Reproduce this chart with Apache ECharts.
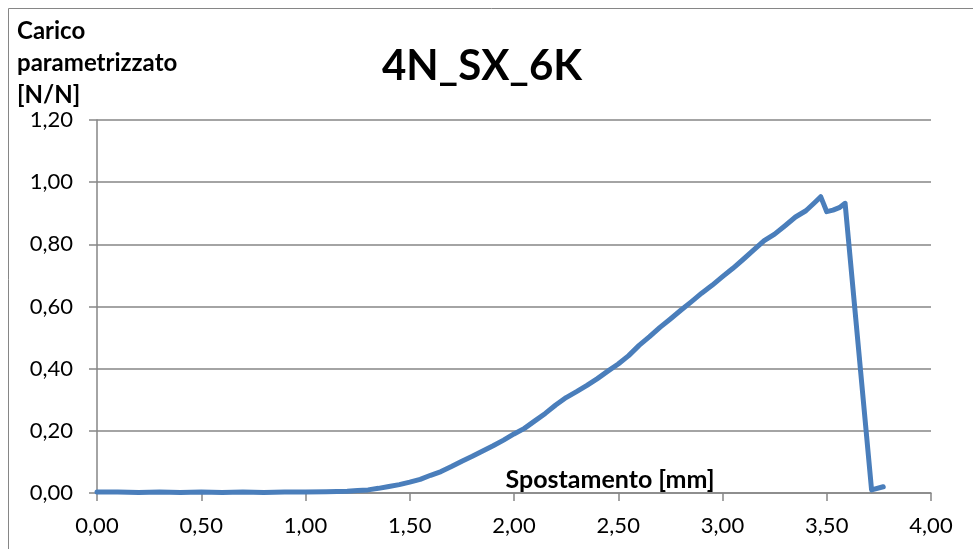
<!DOCTYPE html>
<html>
<head>
<meta charset="utf-8">
<script src="https://cdn.jsdelivr.net/npm/echarts@6/dist/echarts.min.js"></script>
<style>
html,body{margin:0;padding:0;background:#fff;}
#chart{width:973px;height:549px;}
</style>
</head>
<body>
<div id="chart"></div>
<script>
var chartTitle = '4N_SX_6K';
var xAxisName = 'Spostamento [mm]';
var yAxisNameLines = ['Carico', 'parametrizzato', '[N/N]'];

var displacement = [
  0.00, 0.10, 0.20, 0.30, 0.40, 0.50, 0.60, 0.70, 0.80, 0.90,
  1.00, 1.10, 1.15, 1.20, 1.25, 1.30, 1.35, 1.40, 1.45, 1.50,
  1.55, 1.60, 1.65, 1.70, 1.75, 1.80, 1.85, 1.90, 1.95, 2.00,
  2.05, 2.10, 2.15, 2.20, 2.25, 2.30, 2.35, 2.40, 2.45, 2.50,
  2.55, 2.60, 2.65, 2.70, 2.75, 2.80, 2.85, 2.90, 2.95, 3.00,
  3.05, 3.10, 3.15, 3.20, 3.25, 3.30, 3.35, 3.40, 3.44, 3.471,
  3.485, 3.50, 3.53, 3.56, 3.588, 3.715, 3.771
];
var load = [
  0.003, 0.003, 0.002, 0.003, 0.002, 0.003, 0.002, 0.003, 0.002, 0.003,
  0.003, 0.004, 0.005, 0.006, 0.008, 0.010, 0.015, 0.021, 0.027, 0.035,
  0.044, 0.057, 0.069, 0.085, 0.102, 0.118, 0.135, 0.152, 0.170, 0.190,
  0.208, 0.232, 0.256, 0.283, 0.307, 0.326, 0.346, 0.368, 0.392, 0.415,
  0.442, 0.475, 0.503, 0.533, 0.560, 0.588, 0.615, 0.643, 0.668, 0.696,
  0.723, 0.752, 0.782, 0.812, 0.833, 0.860, 0.888, 0.908, 0.933, 0.953,
  0.930, 0.905, 0.910, 0.918, 0.932, 0.010, 0.020
];
var xTicks = {min: 0, max: 4, interval: 0.5};
var yTicks = {min: 0, max: 1.2, interval: 0.2};

var seriesData = displacement.map(function (x, i) { return [x, load[i]]; });
var fmt = function (v) { return v.toFixed(2).replace('.', ','); };
var FONT = 'Lato, "Open Sans", sans-serif';
var GRAY = '#868686';

var chart = echarts.init(document.getElementById('chart'), null, {renderer: 'canvas'});
chart.setOption({
  animation: false,
  backgroundColor: '#fff',
  grid: {left: 97, right: 42, top: 120, bottom: 56, containLabel: false},
  xAxis: {
    type: 'value', min: xTicks.min, max: xTicks.max, interval: xTicks.interval,
    axisLine: {show: true, lineStyle: {color: GRAY, width: 1.5}},
    axisTick: {show: true, inside: false, length: 8, lineStyle: {color: GRAY, width: 1.5}},
    axisLabel: {formatter: fmt, color: '#000', fontFamily: FONT, fontSize: 22, margin: 22},
    splitLine: {show: false}
  },
  yAxis: {
    type: 'value', min: yTicks.min, max: yTicks.max, interval: yTicks.interval,
    axisLine: {show: true, lineStyle: {color: GRAY, width: 1.5}},
    axisTick: {show: true, inside: false, length: 8, lineStyle: {color: GRAY, width: 1.5}},
    axisLabel: {formatter: fmt, color: '#000', fontFamily: FONT, fontSize: 22, margin: 24},
    splitLine: {show: true, lineStyle: {color: GRAY, width: 1.5}}
  },
  graphic: [
    {type: 'rect', shape: {x: 8.5, y: 8.5, width: 1200, height: 800}, style: {fill: 'none', stroke: GRAY, lineWidth: 1}, silent: true},
    {type: 'text', x: 482, y: 66, style: {text: chartTitle, fontFamily: FONT, fontWeight: 'bold', fontSize: 42, fill: '#000', textAlign: 'center', textVerticalAlign: 'middle'}},
    {type: 'text', x: 17, y: 15, style: {text: yAxisNameLines.join('\n'), fontFamily: FONT, fontWeight: 'bold', fontSize: 24, lineHeight: 32, fill: '#000', textAlign: 'left', textVerticalAlign: 'top'}},
    {type: 'text', x: 610, y: 480, style: {text: xAxisName, fontFamily: FONT, fontWeight: 'bold', fontSize: 25, fill: '#000', textAlign: 'center', textVerticalAlign: 'middle'}}
  ],
  series: [{
    type: 'line', data: seriesData, showSymbol: false, smooth: false,
    lineStyle: {color: '#4a7ebb', width: 5, join: 'round', cap: 'round'},
    z: 3
  }]
});
</script>
</body>
</html>
